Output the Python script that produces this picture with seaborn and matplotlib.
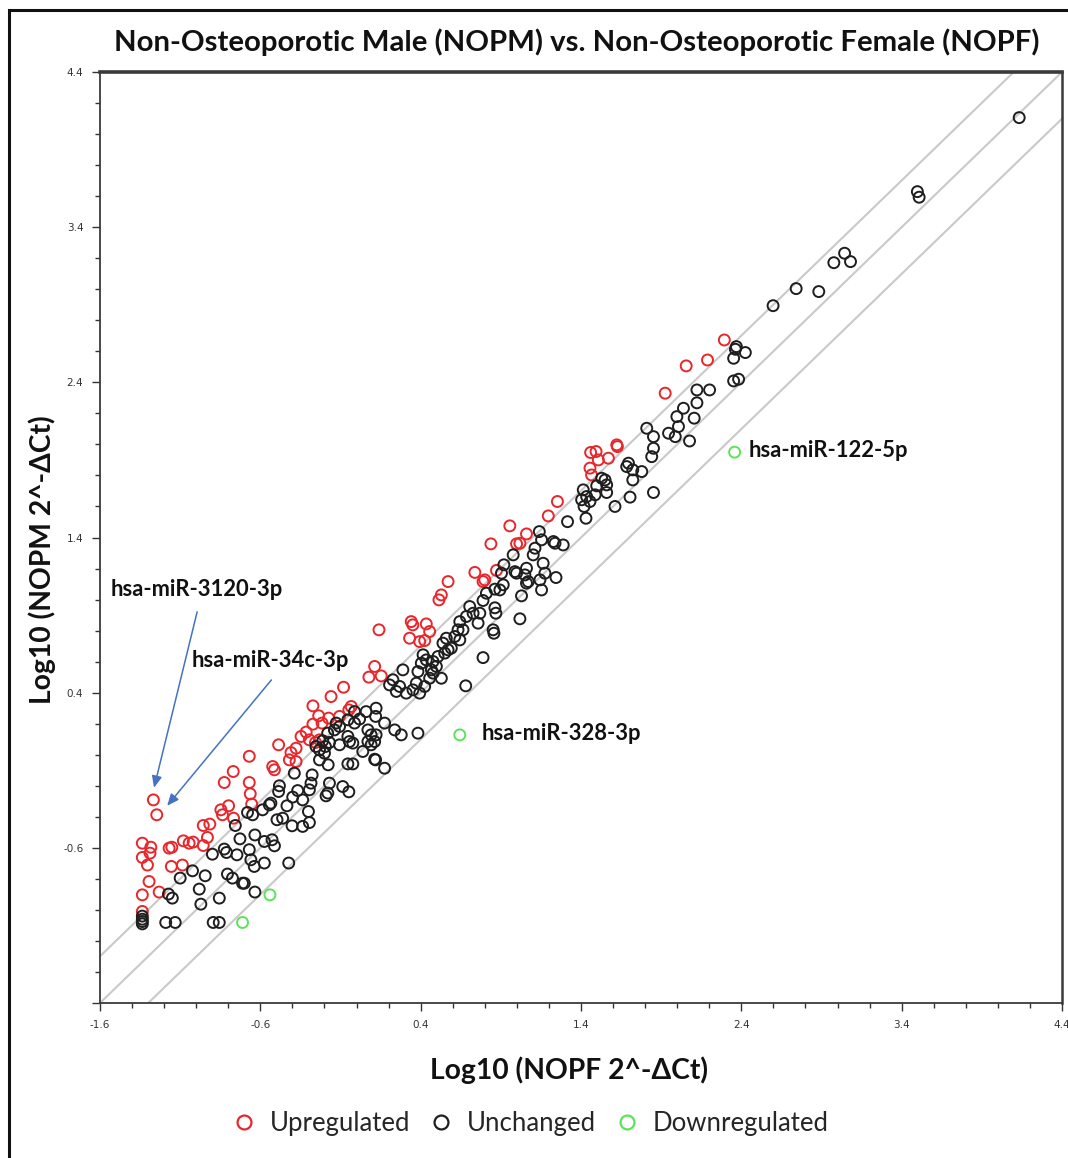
import numpy as np
import pandas as pd
import matplotlib
matplotlib.use("Agg")
import matplotlib.pyplot as plt
import seaborn as sns
from matplotlib.lines import Line2D
from matplotlib.patches import Rectangle
from matplotlib.ticker import FixedLocator, MultipleLocator

# ---------------- data ----------------
up_x = [-1.267, -1.246, -1.336, -1.283, -1.336, -1.288, -1.304, -1.294, -1.336, -1.231, -1.336,
        -1.169, -1.152, -1.155, -1.086, -1.080, -1.044, -1.019, -0.956, -0.930, -0.956, -0.915,
        -0.846, -0.836, -0.798, -0.767, -0.825, -0.769, -0.669, -0.663, -0.654, -0.523, -0.512,
        -0.419, -0.377,
        0.140, 0.113, 0.077, 0.154, -0.081, -0.159, -0.272, -0.033, -0.048, -0.236, -0.174, -0.106,
        -0.272, -0.215, -0.314, -0.346, -0.294, -0.256, -0.231, -0.377, -0.409, -0.486, -0.669,
        0.341, 0.351, 0.435, 0.456, 0.331, 0.394, 0.425, 0.514, 0.529, 0.571, 0.738, 0.789, 0.800,
        0.873, 0.838, 0.956, 0.998, 1.019, 1.060, 1.196, 1.253, 1.456, 1.466, 1.460, 1.494, 1.508,
        1.571, 1.623, 1.627,
        1.925, 2.056, 2.294, 2.189]
up_y = [-0.291, -0.387, -0.570, -0.596, -0.662, -0.634, -0.711, -0.817, -0.903, -0.885, -1.010,
        -0.602, -0.596, -0.720, -0.711, -0.555, -0.570, -0.563, -0.585, -0.533, -0.456, -0.447,
        -0.355, -0.387, -0.329, -0.409, -0.179, -0.108, -0.179, -0.252, -0.318, -0.076, -0.097,
        -0.033, -0.044,
        0.805, 0.569, 0.500, 0.508, 0.435, 0.375, 0.315, 0.311, 0.289, 0.251, 0.236, 0.247,
        0.197, 0.204, 0.146, 0.118, 0.096, 0.079, 0.096, 0.042, 0.014, 0.064, -0.010,
        0.858, 0.837, 0.843, 0.794, 0.751, 0.729, 0.736, 0.998, 1.030, 1.116, 1.175, 1.116, 1.127,
        1.188, 1.359, 1.475, 1.359, 1.363, 1.423, 1.539, 1.632, 1.847, 1.803, 1.948, 1.954, 1.900,
        1.911, 1.997, 1.986,
        2.330, 2.506, 2.673, 2.544]

unch_x = [-1.336, -1.336, -1.336, -1.336, -1.190, -1.131, -0.894, -0.856,
          -1.173, -1.149, -1.100, -1.023, -0.944, -0.981, -0.971, -0.856, -0.899, -0.825, -0.811,
          -0.746, -0.805, -0.774, -0.711, -0.700, -0.634, -0.727, -0.756, -0.669, -0.659, -0.638,
          -0.575, -0.634, -0.575, -0.527, -0.512, -0.423, -0.680, -0.648, -0.586, -0.544, -0.534,
          -0.496, -0.461, -0.402, -0.434, -0.481, -0.486, -0.388, -0.398, -0.367, -0.336, -0.336,
          -0.294, -0.300, -0.294, -0.284, -0.277, -0.179, -0.190, -0.169, -0.177, -0.231, -0.086,
          -0.048, -0.054, -0.023, 0.119, 0.175,
          -0.0125, 0.060, 0.122, 0.119, -0.054, -0.0125, 0.019, -0.127, -0.106, -0.180, -0.138,
          -0.211, -0.194, -0.169, -0.253, -0.231, -0.200, -0.054, -0.044, -0.023, -0.106,
          0.071, 0.091, 0.122, 0.071, 0.091, 0.113, 0.113, 0.039,
          0.175, 0.238, 0.279, 0.383,
          1.810, 1.852, 1.946, 1.988, 1.998, 1.852, 1.841, 1.852, 1.696, 1.685, 1.723, 1.779, 1.723,
          1.706, 1.612, 1.529, 1.550, 1.560, 1.560, 1.488, 1.498, 1.414, 1.404, 1.419, 1.435, 1.456,
          1.431, 1.316, 1.228, 1.238, 1.289, 1.140, 1.154, 1.113, 1.102, 0.977, 0.919, 0.904, 0.988,
          0.998, 1.060, 1.050, 1.071, 1.060, 1.164, 1.175, 1.144, 1.154, 1.244, 1.029, 1.019, 0.915,
          0.894, 0.863, 0.863, 0.869, 0.852, 0.857, 0.769, 0.758, 0.789, 0.810, 0.706, 0.727, 0.685,
          0.644, 0.664, 0.633, 0.613, 0.644, 0.560, 0.539, 0.571, 0.550, 0.591, 0.508, 0.477, 0.498,
          0.467, 0.435, 0.415, 0.404, 0.383, 0.529, 0.373, 0.352, 0.394, 0.425, 0.310, 0.269, 0.227,
          0.206, 0.248, 0.289, 0.456, 0.477, 0.681, 0.789,
          2.039, 2.008, 2.123, 2.106, 2.077, 2.123,
          4.133, 3.498, 3.509, 3.044, 3.081, 2.977, 2.742, 2.883, 2.598, 2.369, 2.363, 2.425, 2.352,
          2.352, 2.383, 2.202]
unch_y = [-1.040, -1.060, -1.075, -1.090, -1.081, -1.081, -1.081, -1.081,
          -0.898, -0.924, -0.795, -0.748, -0.780, -0.866, -0.963, -0.924, -0.641, -0.608, -0.630,
          -0.645, -0.769, -0.795, -0.828, -0.828, -0.885, -0.542, -0.456, -0.612, -0.677, -0.720,
          -0.698, -0.517, -0.559, -0.548, -0.587, -0.698, -0.372, -0.387, -0.355, -0.323, -0.312,
          -0.419, -0.409, -0.458, -0.329, -0.200, -0.237, -0.119, -0.273, -0.231, -0.291, -0.462,
          -0.437, -0.366, -0.226, -0.183, -0.130, -0.247, -0.265, -0.183, -0.065, -0.033, -0.205,
          -0.239, -0.059, -0.059, -0.033, -0.087,
          0.278, 0.278, 0.300, 0.247, 0.225, 0.204, 0.230, 0.204, 0.182, 0.139, 0.160,
          0.090, 0.053, 0.079, 0.053, 0.031, 0.010, 0.118, 0.085, 0.075, 0.064,
          0.160, 0.128, 0.128, 0.085, 0.064, 0.085, -0.029, 0.021,
          0.204, 0.160, 0.128, 0.139,
          2.104, 2.050, 2.072, 2.050, 2.179, 1.975, 1.921, 1.690, 1.879, 1.857, 1.836, 1.825, 1.771,
          1.660, 1.600, 1.782, 1.771, 1.739, 1.690, 1.675, 1.733, 1.707, 1.643, 1.600, 1.664, 1.632,
          1.524, 1.502, 1.374, 1.363, 1.352, 1.438, 1.385, 1.331, 1.288, 1.288, 1.224, 1.170, 1.180,
          1.170, 1.202, 1.159, 1.116, 1.106, 1.234, 1.170, 1.127, 1.062, 1.142, 1.024, 0.876, 1.095,
          1.062, 1.067, 0.947, 0.912, 0.805, 0.783, 0.912, 0.848, 0.994, 1.041, 0.955, 0.912, 0.891,
          0.858, 0.805, 0.805, 0.762, 0.740, 0.751, 0.719, 0.676, 0.655, 0.687, 0.633, 0.601, 0.569,
          0.547, 0.611, 0.644, 0.590, 0.536, 0.493, 0.461, 0.418, 0.397, 0.440, 0.397, 0.440, 0.483,
          0.450, 0.408, 0.547, 0.493, 0.526, 0.444, 0.626,
          2.233, 2.115, 2.268, 2.169, 2.022, 2.351,
          4.106, 3.629, 3.593, 3.232, 3.178, 3.171, 3.004, 2.985, 2.894, 2.630, 2.613, 2.592, 2.555,
          2.409, 2.420, 2.351]

down_x = [-0.540, -0.711, 0.644, 2.358]
down_y = [-0.903, -1.081, 0.128, 1.950]

categories = ["Upregulated", "Unchanged", "Downregulated"]
colors = {"Upregulated": "#e8262b", "Unchanged": "#1e1e1e", "Downregulated": "#5be35b"}

labels_txt = ["hsa-miR-3120-3p", "hsa-miR-34c-3p", "hsa-miR-328-3p", "hsa-miR-122-5p"]
fold_offset = np.log10(2)

tick_vals = [-1.6, -0.6, 0.4, 1.4, 2.4, 3.4, 4.4]

df = pd.concat([
    pd.DataFrame({"x": up_x, "y": up_y, "status": "Upregulated"}),
    pd.DataFrame({"x": unch_x, "y": unch_y, "status": "Unchanged"}),
    pd.DataFrame({"x": down_x, "y": down_y, "status": "Downregulated"}),
], ignore_index=True)

# ---------------- figure ----------------
sns.set_style("ticks")
plt.rcParams["font.family"] = ["Lato", "DejaVu Sans"]

fig = plt.figure(figsize=(10.68, 11.58), dpi=100)
ax = fig.add_axes([100 / 1068, 1 - 1003 / 1158, 962 / 1068, 931 / 1158])

ax.set_xlim(-1.6, 4.4)
ax.set_ylim(-1.6, 4.4)

for off in (fold_offset, 0.0, -fold_offset):
    ax.axline((0, off), slope=1, color="#c9c9c9", lw=1.5, zorder=1)

for cat in categories:
    sub = df[df["status"] == cat]
    sns.scatterplot(data=sub, x="x", y="y", ax=ax, marker="o", s=62,
                    facecolors="none", edgecolor=colors[cat], linewidth=1.4,
                    legend=False, zorder=3)

ax.set_xlabel("")
ax.set_ylabel("")

ax.xaxis.set_major_locator(FixedLocator(tick_vals))
ax.yaxis.set_major_locator(FixedLocator(tick_vals))
ax.xaxis.set_minor_locator(MultipleLocator(0.2))
ax.yaxis.set_minor_locator(MultipleLocator(0.2))
ax.set_xticklabels([f"{v:.1f}" for v in tick_vals], fontsize=7.5, family="DejaVu Sans", color="#333333")
ax.set_yticklabels(["" if v == -1.6 else f"{v:.1f}" for v in tick_vals], fontsize=7.5,
                   family="DejaVu Sans", color="#333333")
ax.tick_params(axis="both", which="major", direction="out", length=6, width=1, color="#333333", pad=6)
ax.tick_params(axis="both", which="minor", direction="out", length=3.5, width=1, color="#333333")

for side, sp in ax.spines.items():
    sp.set_visible(True)
    sp.set_color("#3a3a3a")
    sp.set_linewidth(1.3)
ax.spines["top"].set_linewidth(2.6)
ax.spines["right"].set_linewidth(1.8)

# annotations
txt_kw = dict(fontsize=15.8, fontweight="bold", color="#111111", va="center", ha="left")
arrow_kw = dict(arrowstyle="-|>,head_length=0.7,head_width=0.3", color="#4472c4", lw=1.1,
                shrinkA=0, shrinkB=0)
ax.text(-1.531, 1.062, labels_txt[0], **txt_kw)
ax.annotate("", xy=(-1.263, -0.213), xytext=(-0.994, 0.921), arrowprops=arrow_kw)
ax.text(-1.031, 0.605, labels_txt[1], **txt_kw)
ax.annotate("", xy=(-1.181, -0.329), xytext=(-0.531, 0.482), arrowprops=arrow_kw)
ax.text(0.781, 0.135, labels_txt[2], **txt_kw)
ax.text(2.444, 1.958, labels_txt[3], **txt_kw)

# titles and labels
fig.text(577 / 1068, 1 - 42 / 1158, "Non-Osteoporotic Male (NOPM) vs. Non-Osteoporotic Female (NOPF)",
         ha="center", va="center", fontsize=21.2, fontweight="bold", color="#111111")
fig.text(569 / 1068, 1 - 1070 / 1158, "Log10 (NOPF 2^-\u0394Ct)", ha="center", va="center",
         fontsize=20.3, fontweight="bold", color="#111111")
fig.text(42 / 1068, 1 - 560 / 1158, "Log10 (NOPM 2^-\u0394Ct)", ha="center", va="center",
         rotation=90, fontsize=20.3, fontweight="bold", color="#111111")

handles = [Line2D([], [], linestyle="none", marker="o", markersize=10, markerfacecolor="none",
                  markeredgecolor=colors[c], markeredgewidth=1.6, label=c) for c in categories]
fig.legend(handles=handles, loc="center", bbox_to_anchor=(530 / 1068, 1 - 1123 / 1158), ncol=3,
           frameon=False, fontsize=18.5, handlelength=1.0, handletextpad=0.5, columnspacing=0.7,
           borderaxespad=0)

# outer frame (left/top visible)
fig.add_artist(Rectangle((9 / 1068, -0.1), 1.2, 1.1 - 10 / 1158, transform=fig.transFigure,
                         fill=False, edgecolor="#111111", lw=2.2, clip_on=False))

fig.savefig("out.png", dpi=100, facecolor="white")
